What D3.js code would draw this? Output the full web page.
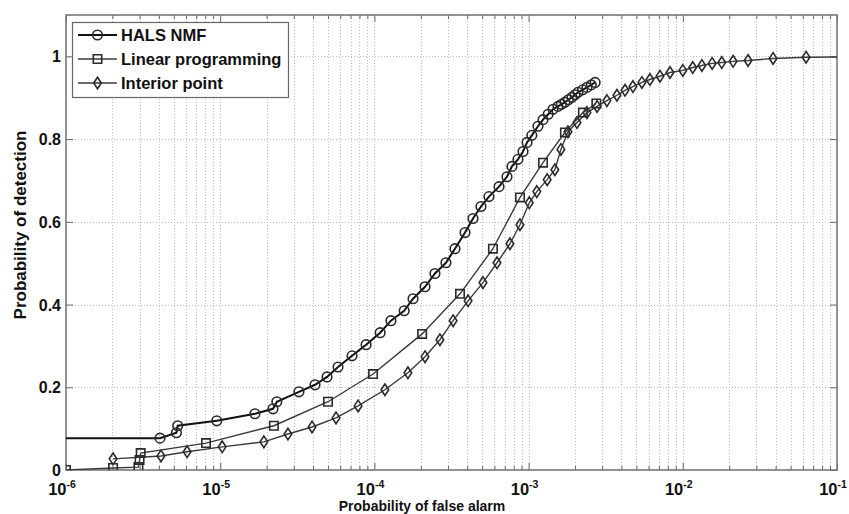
<!DOCTYPE html>
<html>
<head>
<meta charset="utf-8">
<script src="https://cdn.jsdelivr.net/npm/d3@7"></script>
<style>
body { margin: 0; background: #fff; }
text { font-family: "Liberation Sans", Arial, sans-serif; font-weight: bold; fill: #111; }
</style>
</head>
<body>
<div id="chart"></div>
<script>
// ROC values
var halsPfa = [1e-7, 4.07e-6, 5.2e-6, 5.3e-6, 9.5e-6, 1.68e-5, 2.2e-5, 2.33e-5, 3.24e-5, 4.12e-5,
	4.93e-5, 5.81e-5, 7.16e-5, 8.83e-5, 1.09e-4, 1.28e-4, 1.56e-4, 1.78e-4, 2.13e-4, 2.47e-4,
	2.91e-4, 3.33e-4, 3.87e-4, 4.36e-4, 4.91e-4, 5.53e-4, 6.43e-4, 7.24e-4, 7.80e-4, 8.53e-4,
	9.2e-4, 9.77e-4, 1.05e-3, 1.15e-3, 1.24e-3, 1.34e-3, 1.44e-3, 1.55e-3, 1.63e-3, 1.72e-3,
	1.81e-3, 1.91e-3, 2.0e-3, 2.09e-3, 2.24e-3, 2.39e-3, 2.55e-3, 2.70e-3];
var halsPd = [0.077, 0.077, 0.090, 0.107, 0.119, 0.136, 0.148, 0.165, 0.189, 0.206,
	0.225, 0.249, 0.276, 0.303, 0.332, 0.361, 0.385, 0.414, 0.443, 0.475,
	0.501, 0.535, 0.574, 0.608, 0.637, 0.661, 0.685, 0.709, 0.734, 0.751,
	0.770, 0.792, 0.809, 0.831, 0.847, 0.860, 0.872, 0.879, 0.884, 0.889,
	0.895, 0.901, 0.907, 0.913, 0.919, 0.925, 0.931, 0.937];

var lpPfa = [1e-6, 2.02e-6, 2.95e-6, 3.0e-6, 3.05e-6, 8.09e-6, 2.23e-5, 5.0e-5, 9.8e-5, 2.04e-4,
	3.59e-4, 5.87e-4, 8.8e-4, 1.24e-3, 1.72e-3, 2.25e-3, 2.75e-3];
var lpPd = [0.0, 0.005, 0.007, 0.024, 0.041, 0.065, 0.107, 0.165, 0.232, 0.329,
	0.426, 0.535, 0.659, 0.743, 0.816, 0.864, 0.886];

var ipPfa = [2.02e-6, 4.13e-6, 6.1e-6, 1.03e-5, 1.92e-5, 2.75e-5, 3.94e-5, 5.64e-5, 7.84e-5, 1.17e-4,
	1.65e-4, 2.13e-4, 2.66e-4, 3.24e-4, 4.05e-4, 5.06e-4, 6.24e-4, 7.57e-4, 8.79e-4, 1.01e-3,
	1.13e-3, 1.32e-3, 1.48e-3, 1.62e-3, 1.80e-3, 2.06e-3, 2.39e-3, 2.78e-3, 3.22e-3, 3.74e-3,
	4.22e-3, 4.75e-3, 5.43e-3, 6.12e-3, 7.11e-3, 8.26e-3, 1.0e-2, 1.16e-2, 1.33e-2, 1.55e-2,
	1.79e-2, 2.12e-2, 2.65e-2, 3.85e-2, 6.3e-2, 1];
var ipPd = [0.027, 0.034, 0.044, 0.056, 0.068, 0.087, 0.104, 0.126, 0.155, 0.194,
	0.235, 0.274, 0.315, 0.361, 0.409, 0.453, 0.501, 0.547, 0.593, 0.646,
	0.673, 0.702, 0.726, 0.775, 0.818, 0.840, 0.864, 0.879, 0.893, 0.906,
	0.918, 0.927, 0.937, 0.944, 0.952, 0.961, 0.966, 0.973, 0.978, 0.983,
	0.985, 0.988, 0.990, 0.995, 0.998, 1.0];

var seriesNames = ["HALS NMF", "Linear programming", "Interior point"];
var xMajor = [1e-6, 1e-5, 1e-4, 1e-3, 1e-2, 1e-1];
var xMajorExp = ["-6", "-5", "-4", "-3", "-2", "-1"];
var yMajor = [0, 0.2, 0.4, 0.6, 0.8, 1];
var yMajorLabels = ["0", "0.2", "0.4", "0.6", "0.8", "1"];

var W = 849, H = 514;
var m = {left: 66, right: 837, top: 15, bottom: 470};

var svg = d3.select("#chart").append("svg")
	.attr("width", W).attr("height", H);

var x = d3.scaleLog().domain([1e-6, 1e-1]).range([m.left, m.right]);
var y = d3.scaleLinear().domain([0, 1.1]).range([m.bottom, m.top]);

svg.append("clipPath").attr("id", "plotclip")
	.append("rect")
	.attr("x", m.left).attr("y", m.top)
	.attr("width", m.right - m.left).attr("height", m.bottom - m.top);

// grid
var allX = x.ticks().filter(function(t) { return t > 1e-6 && t < 1e-1; });
var grid = svg.append("g").attr("stroke", "#bdbdbd").attr("stroke-width", 1)
	.attr("stroke-dasharray", "1,2");
grid.selectAll("line.gx").data(allX).enter().append("line")
	.attr("x1", function(d) { return Math.round(x(d)) + 0.5; })
	.attr("x2", function(d) { return Math.round(x(d)) + 0.5; })
	.attr("y1", m.top).attr("y2", m.bottom);
grid.selectAll("line.gy").data(yMajor.filter(function(d) { return d > 0; })).enter().append("line")
	.attr("y1", function(d) { return Math.round(y(d)) + 0.5; })
	.attr("y2", function(d) { return Math.round(y(d)) + 0.5; })
	.attr("x1", m.left).attr("x2", m.right);

// axes with inward ticks on every side
var minorX = x.ticks().filter(function(t) { return xMajor.indexOf(t) < 0; });
function addAxis(axis, tx, ty) {
	var g = svg.append("g").attr("transform", "translate(" + tx + "," + ty + ")").call(axis);
	g.select(".domain").remove();
	g.selectAll("line").attr("stroke", "#666");
	return g;
}
addAxis(d3.axisBottom(x).tickValues(xMajor).tickSize(-7).tickFormat(""), 0, m.bottom);
addAxis(d3.axisBottom(x).tickValues(minorX).tickSize(-4).tickFormat(""), 0, m.bottom);
addAxis(d3.axisTop(x).tickValues(xMajor).tickSize(-7).tickFormat(""), 0, m.top);
addAxis(d3.axisTop(x).tickValues(minorX).tickSize(-4).tickFormat(""), 0, m.top);
addAxis(d3.axisLeft(y).tickValues(yMajor).tickSize(-7).tickFormat(""), m.left, 0);
addAxis(d3.axisRight(y).tickValues(yMajor).tickSize(-7).tickFormat(""), m.right, 0);

svg.append("rect")
	.attr("x", m.left).attr("y", m.top)
	.attr("width", m.right - m.left).attr("height", m.bottom - m.top)
	.attr("fill", "none").attr("stroke", "#777").attr("stroke-width", 1.6);

// tick labels
svg.selectAll("text.yl").data(yMajor).enter().append("text")
	.attr("x", 61)
	.attr("y", function(d) { return y(d) + 6; })
	.attr("text-anchor", "end")
	.attr("font-size", 16)
	.text(function(d, i) { return yMajorLabels[i]; });

var xl = svg.selectAll("text.xl").data(xMajor).enter().append("text")
	.attr("x", function(d) { return x(d) - 4; })
	.attr("y", 495)
	.attr("text-anchor", "middle")
	.attr("font-size", 16.5);
xl.append("tspan").text("10");
xl.append("tspan").attr("dy", -7).attr("font-size", 10.5)
	.text(function(d, i) { return xMajorExp[i]; });

svg.append("text")
	.attr("x", 422).attr("y", 511)
	.attr("text-anchor", "middle")
	.attr("font-size", 14)
	.text("Probability of false alarm");

svg.append("text")
	.attr("transform", "translate(26," + 225 + ") rotate(-90)")
	.attr("text-anchor", "middle")
	.attr("font-size", 17)
	.text("Probability of detection");

// series
function zip(a, b) { return a.map(function(v, i) { return [v, b[i]]; }); }
var series = [
	{name: seriesNames[0], data: zip(halsPfa, halsPd), shape: "circle", color: "#111", width: 2},
	{name: seriesNames[1], data: zip(lpPfa, lpPd), shape: "square", color: "#3a3a3a", width: 1.4},
	{name: seriesNames[2], data: zip(ipPfa, ipPd), shape: "diamond", color: "#3a3a3a", width: 1.4}
];

function markerPath(shape) {
	if (shape == "circle") return "M-4.8,0A4.8,4.8 0 1,0 4.8,0A4.8,4.8 0 1,0 -4.8,0Z";
	if (shape == "square") return "M-4.2,-4.2L4.2,-4.2L4.2,4.2L-4.2,4.2Z";
	return "M0,-5.8L3.8,0L0,5.8L-3.8,0Z";
}

var line = d3.line()
	.x(function(d) { return x(d[0]); })
	.y(function(d) { return y(d[1]); });

var plot = svg.append("g").attr("clip-path", "url(#plotclip)");
series.slice().reverse().forEach(function(s) {
	plot.append("path").datum(s.data)
		.attr("d", line)
		.attr("fill", "none")
		.attr("stroke", s.color)
		.attr("stroke-width", s.width);
	plot.selectAll(null).data(s.data).enter().append("path")
		.attr("transform", function(d) { return "translate(" + x(d[0]) + "," + y(d[1]) + ")"; })
		.attr("d", markerPath(s.shape))
		.attr("fill", "none")
		.attr("stroke", "#2a2a2a")
		.attr("stroke-width", 1.6);
});

// legend
var lg = svg.append("g");
lg.append("rect")
	.attr("x", 72.5).attr("y", 22.5).attr("width", 216).attr("height", 75)
	.attr("fill", "#fff").attr("stroke", "#666").attr("stroke-width", 1.2);
series.forEach(function(s, i) {
	var ly = 35 + i * 24;
	lg.append("line")
		.attr("x1", 78).attr("x2", 117).attr("y1", ly).attr("y2", ly)
		.attr("stroke", s.color).attr("stroke-width", s.width);
	lg.append("path")
		.attr("transform", "translate(97.5," + ly + ")")
		.attr("d", markerPath(s.shape))
		.attr("fill", "none").attr("stroke", "#2a2a2a").attr("stroke-width", 1.6);
	lg.append("text")
		.attr("x", 121).attr("y", ly + 6)
		.attr("font-size", 16.5)
		.text(s.name);
});
</script>
</body>
</html>
